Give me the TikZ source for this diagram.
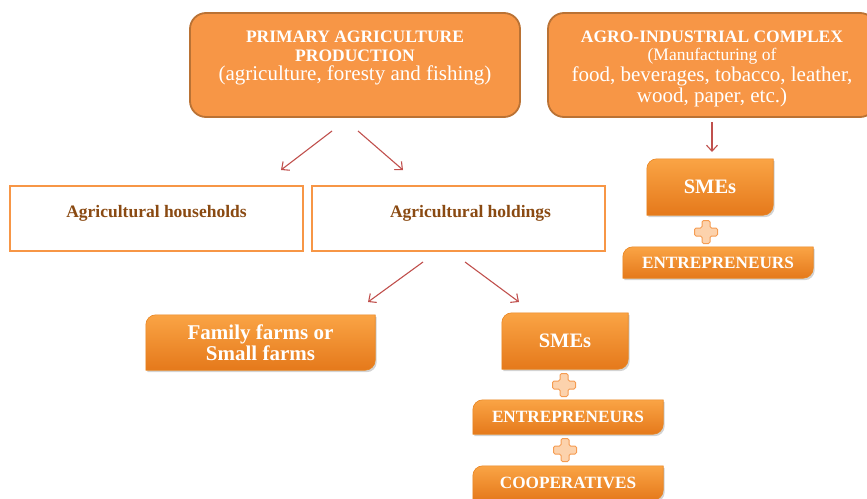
\documentclass[tikz,border=0pt]{standalone}
\usepackage{fontspec}
\setmainfont{Liberation Serif}
\usetikzlibrary{arrows.meta,shadows}
\pgfdeclarelayer{background}
\pgfsetlayers{background,main}
\definecolor{orfill}{HTML}{F79646}
\definecolor{oredge}{HTML}{BA7234}
\definecolor{gradtop}{HTML}{FAA445}
\definecolor{gradbot}{HTML}{E5791B}
\definecolor{gradedge}{HTML}{E8841F}
\definecolor{arrred}{HTML}{C0504D}
\definecolor{holdtext}{HTML}{8A4A12}
\definecolor{plusfill}{HTML}{FCD2AC}
\definecolor{plusedge}{HTML}{F59C52}
\tikzset{
  topbox/.style={draw=oredge, line width=1.8pt, fill=orfill, rounded corners=16pt,
    text=white, align=center, inner sep=0pt, font=\fontsize{17.5}{18}\selectfont\bfseries},
  whitebox/.style={draw=orfill, line width=2.4pt, fill=white, text=holdtext, inner sep=0pt,
    font=\fontsize{17.5}{20}\selectfont\bfseries},
  gradbox/.style={text=white, align=center, inner sep=0pt},
  arr/.style={draw=arrred, line width=1.1pt, -{Straight Barb[length=6pt,width=11pt]}},
  plusmk/.style={draw=plusedge, line width=1pt, fill=plusfill, rounded corners=1.5pt},
}
% background of the orange boxes: round top left and bottom right
\newcommand\diagshape[1]{%
  \begin{pgfonlayer}{background}
    \path[drop shadow={opacity=.35, shadow xshift=1.5pt, shadow yshift=-2pt},
      top color=gradtop, bottom color=gradbot, draw=gradedge, line width=.6pt]
      (#1.south west) -- ([yshift=-10pt]#1.north west)
      arc[start angle=180, end angle=90, radius=10pt] -- (#1.north east)
      -- ([yshift=10pt]#1.south east)
      arc[start angle=0, end angle=-90, radius=10pt] -- cycle;
  \end{pgfonlayer}}
\newcommand\plusmark[1]{%
  \draw[plusmk] (#1) ++(-4,11.5) -- ++(8,0) -- ++(0,-7.5) -- ++(7.5,0) -- ++(0,-8)
    -- ++(-7.5,0) -- ++(0,-7.5) -- ++(-8,0) -- ++(0,7.5) -- ++(-7.5,0) -- ++(0,8)
    -- ++(7.5,0) -- cycle;}
\begin{document}
\begin{tikzpicture}[x=1pt, y=1pt]
  \useasboundingbox (0,0) rectangle (867,-498);

  %% top row
  \node[topbox, minimum width=330, minimum height=104] (prim) at (355,-65)
    {PRIMARY AGRICULTURE\\[1pt]PRODUCTION\\[1pt]
     {\mdseries\fontsize{21}{18}\selectfont (agriculture, foresty and fishing)}\rule[-18pt]{0pt}{0pt}};
  \node[topbox, minimum width=328, minimum height=104] (agro) at (712,-65)
    {\rule{0pt}{20pt}AGRO-INDUSTRIAL COMPLEX\\
     {\mdseries (Manufacturing of}\\[1pt]
     {\mdseries\fontsize{21}{18}\selectfont food, beverages, tobacco, leather,}\\[1pt]
     {\mdseries\fontsize{21}{18}\selectfont wood, paper, etc.)}};

  \coordinate (p1) at (332,-131);  \coordinate (p1e) at (281,-170);
  \coordinate (p2) at (358,-131);  \coordinate (p2e) at (403,-170);
  \draw[arr] (p1) -- (p1e);
  \draw[arr] (p2) -- (p2e);

  %% right column
  \coordinate (q) at (712,-122);  \coordinate (qe) at (712,-152);
  \draw[arr] (q) -- (qe);
  \node[gradbox, minimum width=126, minimum height=56, font=\fontsize{20.5}{21}\selectfont\bfseries]
    (smeR) at (710,-187) {SMEs};
  \diagshape{smeR}
  \plusmark{706,-232}
  \node[gradbox, minimum width=190, minimum height=31, font=\fontsize{17.2}{18}\selectfont\bfseries]
    (entR) at (718,-262.5) {ENTREPRENEURS};
  \diagshape{entR}

  %% middle row
  \node[whitebox, minimum width=293, minimum height=65] (hh) at (156.5,-218.5)
    {Agricultural households\rule[-15pt]{0pt}{0pt}};
  \node[whitebox, minimum width=293, minimum height=65] (hd) at (458.5,-218.5)
    {\hspace{24pt}Agricultural holdings\rule[-15pt]{0pt}{0pt}};

  \coordinate (h1) at (423,-262);  \coordinate (h1e) at (368,-302);
  \coordinate (h2) at (465,-262);  \coordinate (h2e) at (519,-302);
  \draw[arr] (h1) -- (h1e);
  \draw[arr] (h2) -- (h2e);

  %% bottom
  \node[gradbox, minimum width=229, minimum height=55, font=\fontsize{21}{21}\selectfont\bfseries]
    (fam) at (260.5,-342.5) {Family farms or\\Small farms};
  \diagshape{fam}
  \node[gradbox, minimum width=126, minimum height=56, font=\fontsize{20.5}{21}\selectfont\bfseries]
    (smeL) at (565,-341) {SMEs};
  \diagshape{smeL}
  \plusmark{564,-385}
  \node[gradbox, minimum width=190, minimum height=34, font=\fontsize{17.2}{18}\selectfont\bfseries]
    (entL) at (568,-417) {ENTREPRENEURS};
  \diagshape{entL}
  \plusmark{565,-450}
  \node[gradbox, minimum width=190, minimum height=34, font=\fontsize{17.2}{18}\selectfont\bfseries]
    (coop) at (568,-483) {COOPERATIVES};
  \diagshape{coop}
\end{tikzpicture}
\end{document}
